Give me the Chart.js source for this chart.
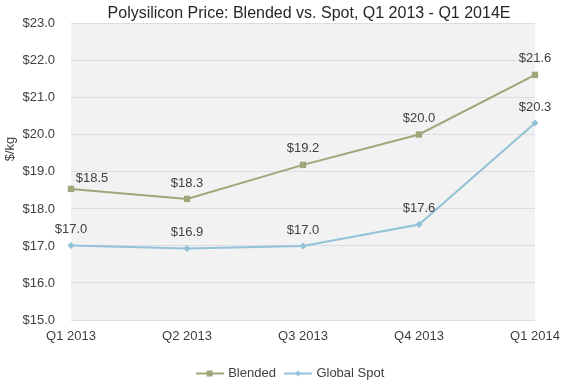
<!DOCTYPE html>
<html>
<head>
<meta charset="utf-8">
<script src="https://cdn.jsdelivr.net/npm/chart.js"></script>
<style>
  body { margin: 0; background: #fff; }
  canvas { display: block; }
</style>
</head>
<body>
<canvas id="lineChart" width="568" height="391"></canvas>
<script>
const quarters = ['Q1 2013', 'Q2 2013', 'Q3 2013', 'Q4 2013', 'Q1 2014'];
const blended = [18.54, 18.27, 19.19, 20.01, 21.62];
const globalSpot = [17.01, 16.93, 17.0, 17.58, 20.32];

const blendedColor = '#9EA67A';
const spotColor = '#92C2D7';
const textColor = '#404040';
const fontFamily = '"Liberation Sans", Arial, sans-serif';

// legend swatch: short line with the marker in the middle
function legendSwatch(color, marker) {
  let c = document.createElement('canvas');
  c.width = 28; c.height = 10;
  let g = c.getContext('2d');
  g.strokeStyle = color;
  g.lineWidth = 2;
  g.beginPath(); g.moveTo(0, 5); g.lineTo(28, 5); g.stroke();
  g.fillStyle = color;
  if (marker == 'square') {
    g.fillRect(11, 2, 6, 6);
  } else {
    g.beginPath();
    g.moveTo(14, 2); g.lineTo(17, 5); g.lineTo(14, 8); g.lineTo(11, 5);
    g.closePath(); g.fill();
  }
  return c;
}
const swatches = [legendSwatch(blendedColor, 'square'), legendSwatch(spotColor, 'diamond')];

// grey plot background + the "$/kg" axis title
const plotBg = {
  id: 'plotBg',
  afterLayout(chart) {
    // nudge title and legend to where the original sits
    chart.titleBlock.left += 6; chart.titleBlock.right += 6;
    chart.legend.left -= 12; chart.legend.right -= 12;
  },
  beforeDraw(chart) {
    let a = chart.chartArea, ctx = chart.ctx;
    ctx.save();
    ctx.fillStyle = '#F2F2F2';
    ctx.fillRect(a.left, a.top, a.right - a.left, a.bottom - a.top);
    ctx.translate(10, 149);
    ctx.rotate(-Math.PI / 2);
    ctx.font = '13px ' + fontFamily;
    ctx.fillStyle = textColor;
    ctx.textAlign = 'center';
    ctx.textBaseline = 'middle';
    ctx.fillText('$/kg', 0, 0);
    ctx.restore();
  }
};

// value labels above the points
const valueLabels = {
  id: 'valueLabels',
  afterDatasetsDraw(chart) {
    let ctx = chart.ctx;
    ctx.save();
    ctx.font = '13px ' + fontFamily;
    ctx.fillStyle = textColor;
    ctx.textAlign = 'center';
    ctx.textBaseline = 'middle';
    chart.data.datasets.forEach((ds, i) => {
      chart.getDatasetMeta(i).data.forEach((pt, j) => {
        let dx = 0, dy = -16;
        if (i == 0 && j == 0) { dx = 21; dy = -11; }
        ctx.fillText('$' + ds.data[j].toFixed(1), pt.x + dx, pt.y + dy);
      });
    });
    ctx.restore();
  }
};

let chartdata = {};
chartdata.labels = quarters;
chartdata.datasets = [
  {
    label: 'Blended', data: blended,
    borderColor: blendedColor, backgroundColor: blendedColor,
    borderWidth: 2, pointStyle: 'rect', pointRadius: 4.5,
    pointBorderWidth: 0, clip: false
  },
  {
    label: 'Global Spot', data: globalSpot,
    borderColor: spotColor, backgroundColor: spotColor,
    borderWidth: 2, pointStyle: 'rectRot', pointRadius: 3.5,
    pointBorderWidth: 0, clip: false
  }
];

let options = {};
options.responsive = false;
options.animation = false;
options.layout = { padding: { left: 0, right: 33, top: 0, bottom: 1 } };
options.plugins = {};
options.plugins.title = {
  display: true,
  text: 'Polysilicon Price: Blended vs. Spot, Q1 2013 - Q1 2014E',
  fullSize: false,
  color: '#262626',
  font: { family: fontFamily, size: 16, weight: 'normal' },
  padding: { top: 2, bottom: 1 }
};
options.plugins.legend = {
  position: 'bottom',
  fullSize: false,
  labels: {
    color: textColor,
    font: { family: fontFamily, size: 13 },
    usePointStyle: true,
    pointStyleWidth: 24,
    padding: 10,
    generateLabels(chart) {
      let items = Chart.defaults.plugins.legend.labels.generateLabels(chart);
      items.forEach((it, i) => { it.pointStyle = swatches[i]; });
      return items;
    }
  }
};
options.plugins.tooltip = { enabled: false };
options.scales = {
  x: {
    offset: false,
    grid: { display: false },
    border: { display: false },
    ticks: { color: textColor, font: { family: fontFamily, size: 13 }, padding: 1, maxRotation: 0 },
    afterFit(scale) { scale.height = 37; }
  },
  y: {
    min: 15, max: 23,
    grid: { color: '#DCDCE2', drawTicks: false },
    border: { display: false },
    ticks: {
      stepSize: 1, padding: 16, color: textColor,
      font: { family: fontFamily, size: 13 },
      callback: v => '$' + v.toFixed(1)
    },
    afterFit(scale) { scale.width = 71; }
  }
};

new Chart(document.getElementById('lineChart'), {
  type: 'line',
  data: chartdata,
  options: options,
  plugins: [plotBg, valueLabels]
});
</script>
</body>
</html>
